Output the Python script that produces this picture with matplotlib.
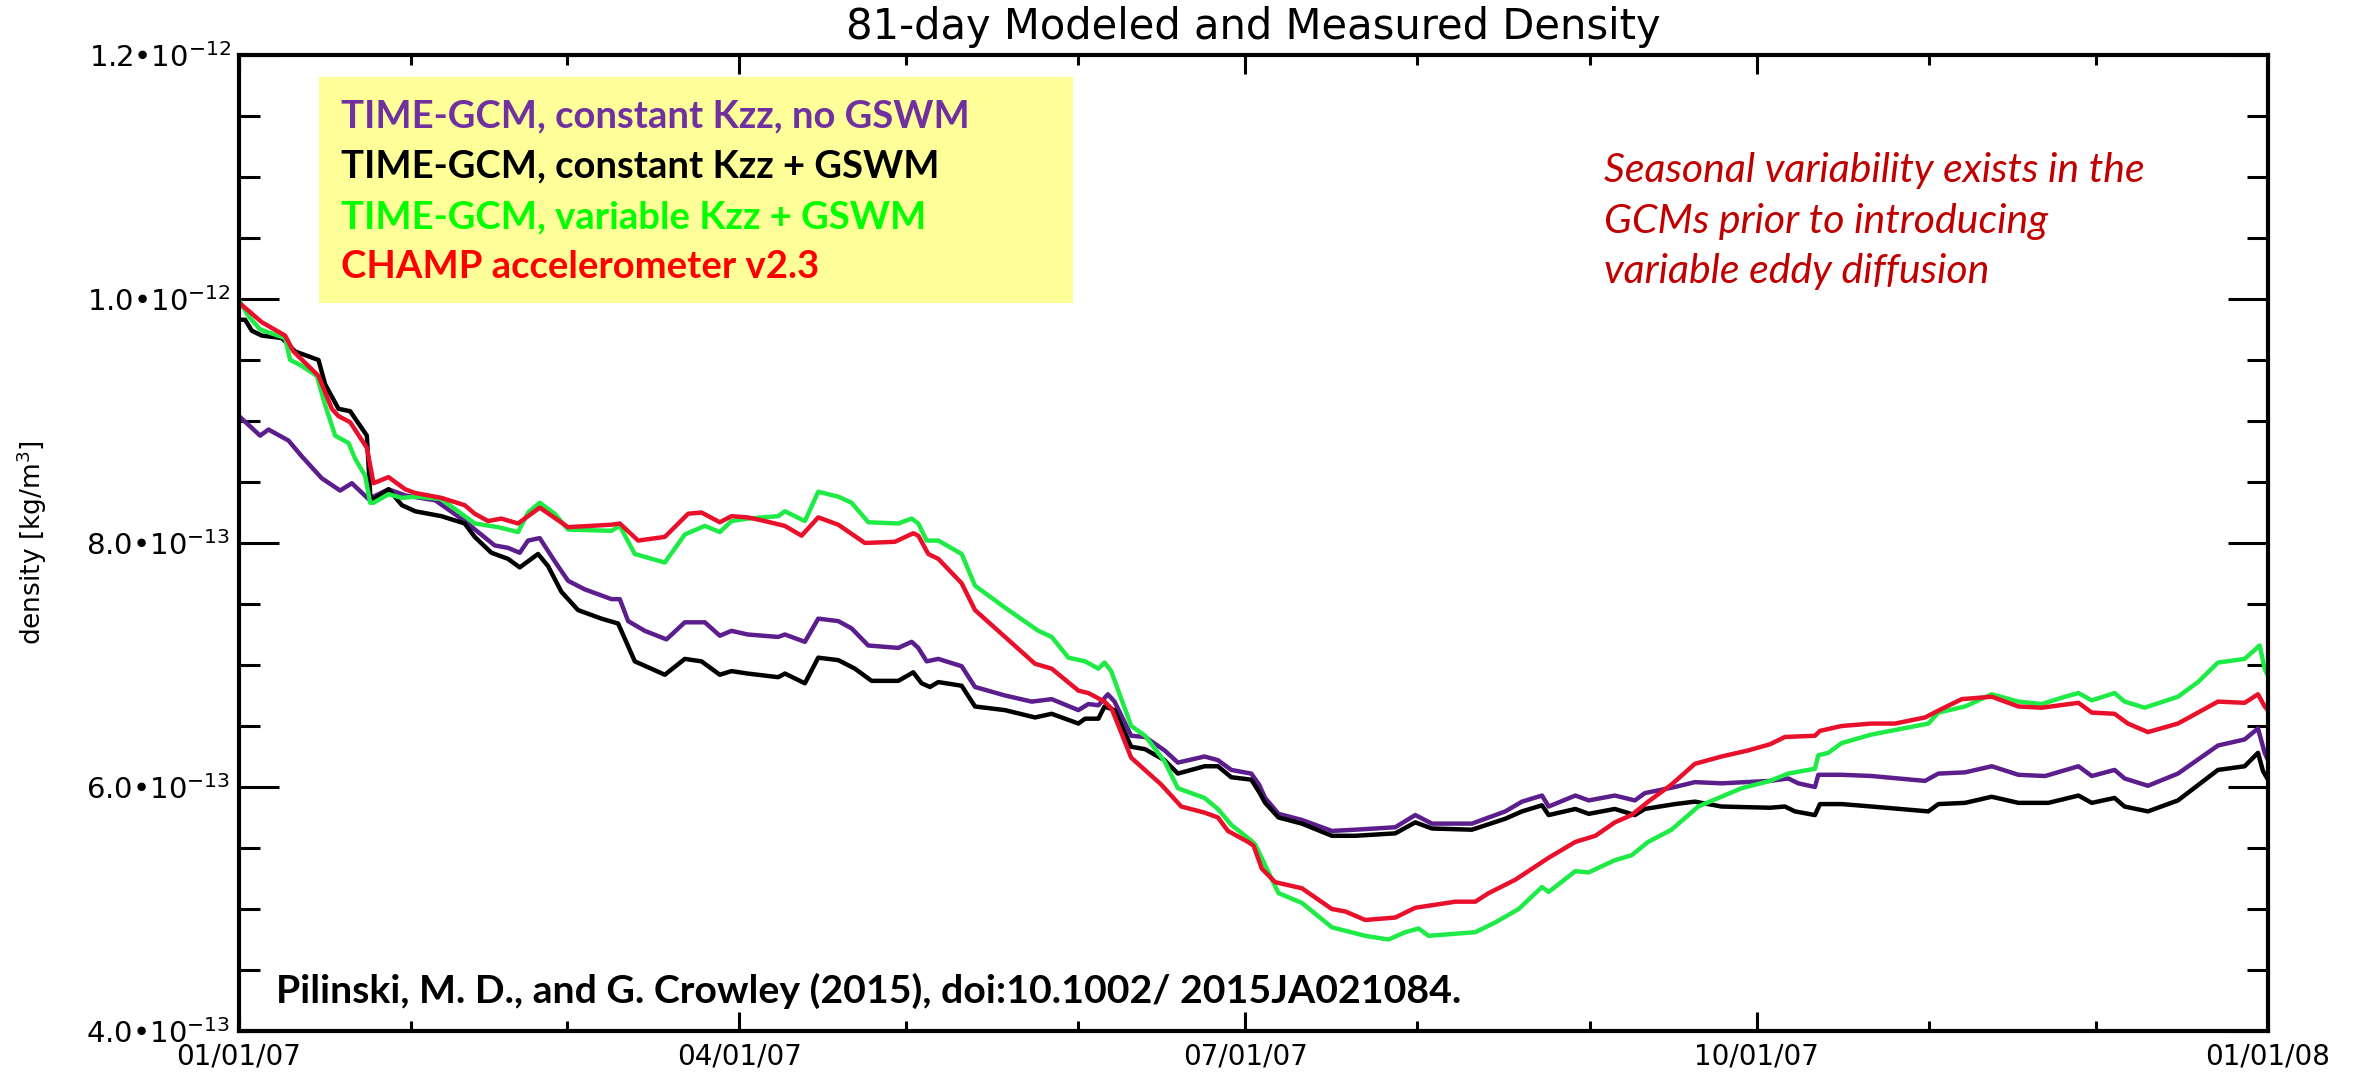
import numpy as np
import matplotlib
matplotlib.use("Agg")
import matplotlib.pyplot as plt
import matplotlib.dates as mdates
from matplotlib.patches import Rectangle
from matplotlib.ticker import FuncFormatter

# jours depuis le 01/01/07, densite en unites de 1e-13 kg/m3
jours_violet = [0, 3.8, 5.3, 8.9, 11.3, 14.9, 18.2, 20.3, 23.3, 26.9, 29.9, 35.3, 40.6, 43, 46, 48.4, 50.5, 52,
                54.1, 56.8, 59.2, 62.2, 67, 68.5, 70, 73, 76.9, 80.2, 83.8, 86.5, 88.6, 91.5, 97, 98.2, 101.8,
                104.2, 107.8, 110.2, 113.2, 118.6, 121, 122.2, 123.7, 125.8, 130, 132.4, 137.8, 142.6, 146.2,
                151, 152.8, 154.6, 156.3, 157.5, 160.5, 163, 166.5, 168.9, 173.7, 176.1, 178.5, 182.1, 183.5,
                184.6, 187, 191.2, 196.6, 200.8, 204.4, 208, 211.6, 214.6, 221.8, 227.8, 230.8, 234.4, 235.6,
                240.4, 242.8, 247.5, 251.1, 252.9, 258.3, 261.9, 266.7, 275.4, 278.7, 280.5, 283.5, 284.1,
                288.3, 293.7, 303.3, 305.7, 310.5, 315.3, 320.1, 324.9, 330.9, 333.3, 337.4, 339.2, 343.4,
                348.8, 356, 360.8, 363.2, 364.4, 365]
violet = [9.04, 8.88, 8.93, 8.84, 8.71, 8.53, 8.43, 8.49, 8.36, 8.44, 8.39, 8.35, 8.18, 8.09, 7.98, 7.96, 7.92, 8.02,
          8.04, 7.85, 7.69, 7.62, 7.54, 7.54, 7.36, 7.28, 7.21, 7.35, 7.35, 7.24, 7.28, 7.25, 7.23, 7.25, 7.19,
          7.38, 7.36, 7.30, 7.16, 7.14, 7.19, 7.14, 7.03, 7.05, 6.99, 6.82, 6.75, 6.70, 6.72,
          6.63, 6.68, 6.67, 6.76, 6.70, 6.42, 6.41, 6.30, 6.20, 6.25, 6.22, 6.14, 6.11, 6.02,
          5.91, 5.78, 5.73, 5.64, 5.65, 5.66, 5.67, 5.77, 5.70, 5.70, 5.80, 5.88, 5.93, 5.84,
          5.93, 5.89, 5.93, 5.89, 5.95, 6.00, 6.04, 6.03, 6.05, 6.07, 6.03, 6.00, 6.10,
          6.10, 6.09, 6.05, 6.11, 6.12, 6.17, 6.10, 6.09, 6.17, 6.09, 6.14, 6.07, 6.01,
          6.11, 6.34, 6.39, 6.48, 6.28, 6.22]

jours_noir = [0, 1.1, 2.3, 4.1, 7.7, 10.1, 14.3, 15.5, 17.9, 20, 23, 23.6, 23.9, 26.9, 29.3, 31.7, 36.4, 40.6,
              42.4, 45.4, 48.4, 50.5, 53.8, 55.6, 58, 61, 65.2, 68.2, 71.2, 76.6, 80.2, 83.2, 86.5, 88.6, 91.5,
              97, 98.2, 101.8, 104.2, 107.8, 110.8, 113.8, 118.6, 121.3, 122.8, 124.3, 125.8, 130, 132.4,
              137.8, 143.2, 146.2, 151, 152.2, 154.6, 155.7, 157.5, 160.5, 163, 166.5, 168.9, 173.7, 176.1,
              178.5, 182.1, 183.5, 184.6, 187, 191.2, 196.6, 200.8, 204.4, 208, 211.6, 214.6, 221.8, 227.8,
              230.8, 234.4, 235.6, 240.4, 242.8, 247.5, 251.1, 252.9, 258.3, 261.9, 266.7, 275.4, 278.1,
              279.9, 283.5, 284.4, 288.3, 293.7, 303.9, 305.7, 310.5, 315.3, 320.1, 325.5, 330.9, 333.3,
              337.4, 339.2, 343.4, 348.8, 356, 360.8, 363.2, 364.1, 365]
noir = [9.83, 9.83, 9.74, 9.70, 9.68, 9.57, 9.50, 9.30, 9.10, 9.08, 8.88, 8.40, 8.35, 8.44, 8.31, 8.26, 8.22, 8.16,
        8.05, 7.92, 7.87, 7.80, 7.91, 7.81, 7.60, 7.45, 7.38, 7.34, 7.03, 6.92, 7.05, 7.03, 6.92, 6.95, 6.93,
        6.90, 6.93, 6.85, 7.06, 7.04, 6.97, 6.87, 6.87, 6.94, 6.85, 6.82, 6.86, 6.83, 6.66,
        6.63, 6.57, 6.60, 6.52, 6.56, 6.56, 6.66, 6.63, 6.33, 6.31, 6.22, 6.11, 6.17, 6.17,
        6.08, 6.06, 5.96, 5.87, 5.75, 5.70, 5.60, 5.60, 5.61, 5.62, 5.71, 5.66, 5.65, 5.74,
        5.80, 5.85, 5.77, 5.82, 5.78, 5.82, 5.77, 5.82, 5.86, 5.88, 5.84, 5.83, 5.84,
        5.80, 5.77, 5.86, 5.86, 5.84, 5.80, 5.86, 5.87, 5.92, 5.87, 5.87, 5.93, 5.87,
        5.91, 5.84, 5.80, 5.89, 6.14, 6.17, 6.28, 6.13, 6.06]

jours_vert = [0, 1.7, 3.8, 8.3, 9.2, 11, 14, 15.5, 17.3, 19.7, 20.9, 22.7, 23.6, 24.2, 26.9, 29.3, 32, 36.4,
              42.4, 46.6, 50.2, 52, 54.1, 56.8, 59.2, 67, 68.5, 71.2, 76.6, 80.2, 83.8, 86.5, 88.6, 91.5, 97,
              98.2, 101.8, 104.2, 107.8, 110.2, 113.2, 118.6, 121, 122.2, 123.7, 125.8, 130, 132.4, 137.8,
              143.8, 146.2, 149.2, 152.2, 154.6, 155.7, 156.9, 160.5, 163, 166.5, 168.9, 173.7, 176.1, 178.5,
              182.1, 182.8, 187, 191.2, 196.6, 202.6, 206.8, 209.8, 212.2, 214, 222.4, 226, 230.2, 234.4,
              235.6, 240.4, 242.8, 247.5, 250.5, 253.5, 257.7, 262.5, 270.3, 275.4, 278.7, 283.5, 284.1,
              285.9, 288.3, 293.7, 303.9, 305.7, 310.5, 315.3, 320.1, 324.3, 328.5, 330.9, 333.3, 337.4,
              339.2, 342.8, 348.8, 352.4, 356, 360.8, 363.5, 364.4, 365]
vert = [9.99, 9.86, 9.75, 9.68, 9.50, 9.46, 9.37, 9.13, 8.88, 8.82, 8.69, 8.55, 8.33, 8.33, 8.40, 8.37, 8.38, 8.36,
        8.16, 8.13, 8.09, 8.25, 8.33, 8.24, 8.11, 8.10, 8.14, 7.91, 7.84, 8.07, 8.14, 8.09, 8.18, 8.20, 8.22,
        8.26, 8.18, 8.42, 8.38, 8.33, 8.17, 8.16, 8.20, 8.16, 8.02, 8.02, 7.91, 7.65, 7.47,
        7.28, 7.23, 7.06, 7.03, 6.97, 7.02, 6.95, 6.50, 6.42, 6.21, 5.99, 5.91, 5.82, 5.69,
        5.56, 5.53, 5.13, 5.05, 4.85, 4.78, 4.75, 4.81, 4.84, 4.78, 4.81, 4.89, 5.00, 5.18,
        5.14, 5.31, 5.30, 5.40, 5.44, 5.55, 5.65, 5.84, 5.99, 6.05, 6.11, 6.15, 6.26,
        6.28, 6.36, 6.43, 6.52, 6.61, 6.66, 6.76, 6.70, 6.68, 6.74, 6.77, 6.71, 6.77,
        6.70, 6.65, 6.74, 6.86, 7.02, 7.05, 7.16, 6.97, 6.91]

jours_rouge = [0, 4.1, 8.3, 9.8, 14.3, 16.7, 17.9, 20, 23, 24.2, 26.9, 29.9, 31.7, 36.4, 40.6, 42.4, 44.8, 47.2,
               50.2, 54.1, 59.2, 67, 68.5, 71.8, 76.6, 80.8, 83.2, 86.5, 88.6, 91.5, 94.6, 98.2, 101.2, 104.2,
               107.8, 112.6, 118, 121.3, 122.2, 124, 125.8, 130, 132.4, 137.8, 143.2, 146.2, 151, 152.8, 155.7,
               157, 160.5, 165.9, 169.5, 173.7, 176.1, 177.9, 181.5, 182.5, 184, 186.4, 191.2, 196.6, 199,
               202.6, 208, 211.6, 218.8, 222.4, 224.8, 229.6, 235.6, 240.4, 244, 247.5, 250.5, 253.5, 257.7,
               261.9, 266.7, 271.5, 275.4, 278.1, 283.5, 284.4, 288.3, 293.7, 297.9, 303.3, 306.3, 309.9,
               315.3, 320.1, 324.3, 330.9, 333.3, 337.4, 339.8, 343.4, 348.8, 352.4, 356, 360.8, 363.2,
               364.4, 365]
rouge = [9.97, 9.81, 9.70, 9.57, 9.37, 9.10, 9.04, 8.99, 8.78, 8.49, 8.54, 8.44, 8.41, 8.37, 8.31, 8.24, 8.18, 8.20,
         8.16, 8.29, 8.13, 8.15, 8.16, 8.02, 8.05, 8.24, 8.25, 8.17, 8.22, 8.21, 8.18, 8.14, 8.06, 8.21,
         8.15, 8.00, 8.01, 8.08, 8.06, 7.91, 7.87, 7.67, 7.45, 7.23, 7.01, 6.97, 6.79, 6.77, 6.70,
         6.64, 6.24, 6.02, 5.84, 5.79, 5.75, 5.64, 5.55, 5.52, 5.33, 5.22, 5.17, 5.00, 4.98,
         4.91, 4.93, 5.01, 5.06, 5.06, 5.13, 5.24, 5.42, 5.55, 5.60, 5.71, 5.77, 5.88, 6.02,
         6.19, 6.25, 6.30, 6.35, 6.41, 6.42, 6.46, 6.50, 6.52, 6.52, 6.57, 6.64, 6.72,
         6.74, 6.66, 6.65, 6.69, 6.61, 6.60, 6.52, 6.45, 6.52, 6.61, 6.70, 6.69, 6.76,
         6.66, 6.63]

graduations_y = [4, 6, 8, 10, 12]
libelles = ["TIME-GCM, constant Kzz, no GSWM", "TIME-GCM, constant Kzz + GSWM",
            "TIME-GCM, variable Kzz + GSWM", "CHAMP accelerometer v2.3"]
couleurs_texte = ["#7030A0", "#000000", "#00FF00", "#FF0000"]
note = ["Seasonal variability exists in the", "GCMs prior to introducing", "variable eddy diffusion"]

debut = mdates.datestr2num("2007-01-01")
fin = mdates.datestr2num("2008-01-01")

fig = plt.figure(figsize=(23.57, 10.76), dpi=100)
ax = fig.add_axes([239 / 2357, 1 - 1031 / 1076, 2029 / 2357, 976 / 1076])

series = [(jours_violet, violet, "#5B1E8C"), (jours_noir, noir, "#000000"),
          (jours_vert, vert, "#1EEB46"), (jours_rouge, rouge, "#E8102A")]
for jours, valeurs, couleur in series:
    ax.plot(debut + np.array(jours), np.array(valeurs) * 1e-13, color=couleur, lw=3.2)

ax.set_xlim(debut, fin)
ax.set_ylim(4e-13, 1.2e-12)

ax.xaxis.set_major_locator(mdates.MonthLocator(bymonth=[1, 4, 7, 10]))
ax.xaxis.set_minor_locator(mdates.MonthLocator())
ax.xaxis.set_major_formatter(mdates.DateFormatter("%m/%d/%y"))
ax.set_yticks(np.array(graduations_y) * 1e-13)
ax.set_yticks(np.arange(4, 12.01, 0.5) * 1e-13, minor=True)


def format_densite(v, pos):
    n = round(v / 1e-13, 3)
    if n >= 10:
        return f"{n / 10:.1f}•10$^{{-12}}$"
    return f"{n:.1f}•10$^{{-13}}$"


ax.yaxis.set_major_formatter(FuncFormatter(format_densite))

ax.tick_params(which="both", direction="in", top=True, right=True, width=2.2, colors="black")
ax.xaxis.set_tick_params(which="major", length=14, pad=8.5, labelsize=20)
ax.xaxis.set_tick_params(which="minor", length=7.5)
ax.yaxis.set_tick_params(which="major", length=29, pad=6, labelsize=21)
ax.yaxis.set_tick_params(which="minor", length=15)
for s in ax.spines.values():
    s.set_linewidth(3)

ax.set_title("81-day Modeled and Measured Density", fontsize=30, pad=11.5)
ax.set_ylabel("density [kg/m$^3$]", fontsize=19, va="center")
ax.yaxis.set_label_coords(-0.102, 0.5)

# boite de legende jaune
ax.add_patch(Rectangle((80 / 2029, 728 / 976), 754 / 2029, 226 / 976, transform=ax.transAxes,
                       facecolor="#FFFF99", edgecolor="none", zorder=5))
for lib, coul, b in zip(libelles, couleurs_texte, [127, 177.5, 228, 278.5]):
    fig.text(341 / 2357, 1 - b / 1076, lib, color=coul, fontsize=27.5, fontweight="bold",
             family="Lato", va="baseline", zorder=6)

for ligne, b in zip(note, [182, 232.5, 283]):
    fig.text(1604 / 2357, 1 - b / 1076, ligne, color="#C00000", fontsize=29.5,
             style="italic", family="Lato", va="baseline")

fig.text(276 / 2357, 1 - 1003 / 1076,
         "Pilinski, M. D., and G. Crowley (2015), doi:10.1002/ 2015JA021084.",
         fontsize=28.3, fontweight="bold", family="Lato", va="baseline")

fig.savefig("out.png", dpi=100)
